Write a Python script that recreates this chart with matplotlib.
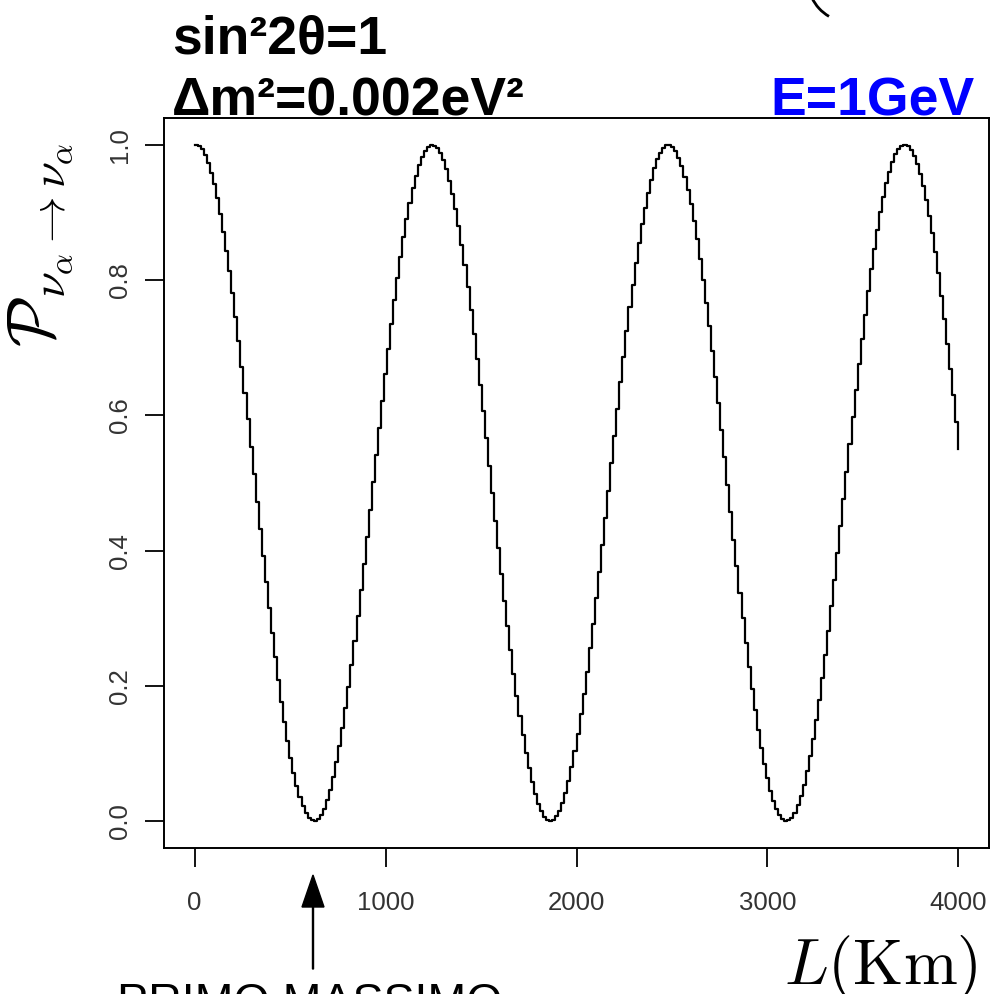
import numpy as np
import matplotlib
matplotlib.use("Agg")
import matplotlib.pyplot as plt
from matplotlib.patches import FancyArrow, Arc

plt.rcParams["mathtext.fontset"] = "cm"

# oscillation parameters as printed on the chart
sin2_2theta = 1.0
dm2 = 0.002          # eV^2
energy = 1.0         # GeV
L_max = 4000         # km
L_step = 16          # km, sampling of the stepped curve

x_ticks = [0, 1000, 2000, 3000, 4000]
y_ticks = [0.0, 0.2, 0.4, 0.6, 0.8, 1.0]

L = np.arange(0, L_max + 1, L_step)
P = 1 - sin2_2theta * np.sin(1.27 * dm2 * L / energy) ** 2

fig = plt.figure(figsize=(9.91, 9.94), dpi=100)
ax = fig.add_axes([164 / 991, 1 - 848 / 994, 825 / 991, 730 / 994])

ax.plot(L, P, color="black", lw=1.6, drawstyle="steps-post")
ax.set_xlim(-160, 4160)
ax.set_ylim(-0.04, 1.04)

ax.set_xticks(x_ticks)
ax.set_xticklabels([str(t) for t in x_ticks])
ax.set_yticks(y_ticks)
ax.set_yticklabels([f"{t:.1f}" for t in y_ticks], rotation=90, va="center")
ax.tick_params(direction="out", length=14, width=1.3, color="black",
               labelsize=18.5, labelcolor="#333333")
ax.tick_params(axis="x", pad=17)
ax.tick_params(axis="y", pad=9)
for lab in ax.get_xticklabels() + ax.get_yticklabels():
    lab.set_family("Liberation Sans")
for s in ax.spines.values():
    s.set_linewidth(1.4)

ax.set_ylabel(r"$\mathcal{P}_{\nu_\alpha\to\nu_\alpha}$", fontsize=48)
ax.yaxis.set_label_coords(-0.108, 0.826)

fig.text(978 / 991, 1 - 984 / 994, r"$L(\mathrm{Km})$", fontsize=46.5,
         ha="right", va="baseline")

# parameter annotations
fig.text(172 / 991, 1 - 54 / 994, "sin²2θ=1", fontsize=38.5, fontweight="bold",
         family="Liberation Sans", va="baseline")
fig.text(172 / 991, 1 - 116 / 994, "Δm²=0.002eV²", fontsize=38.5, fontweight="bold",
         family="Liberation Sans", va="baseline")
fig.text(974 / 991, 1 - 116 / 994, "E=1GeV", fontsize=38.5, fontweight="bold",
         color="#0000ff", family="Liberation Sans", va="baseline", ha="right")

# arrow to the first oscillation maximum
fig.add_artist(FancyArrow(3.13, 9.94 - 9.69, 0, 0.94, width=0.01,
                          head_width=0.22, head_length=0.32,
                          length_includes_head=True, color="black",
                          transform=fig.dpi_scale_trans))
fig.text(117 / 991, 1 - 1016 / 994, "PRIMO MASSIMO", fontsize=33.5,
         family="Liberation Sans", va="baseline")

# cut-off bracket at the top right
fig.add_artist(Arc((8.50, 9.94 + 0.20), 0.84, 0.84, theta1=205, theta2=240,
                   lw=2, color="black", transform=fig.dpi_scale_trans))

fig.savefig("out.png", dpi=100)
